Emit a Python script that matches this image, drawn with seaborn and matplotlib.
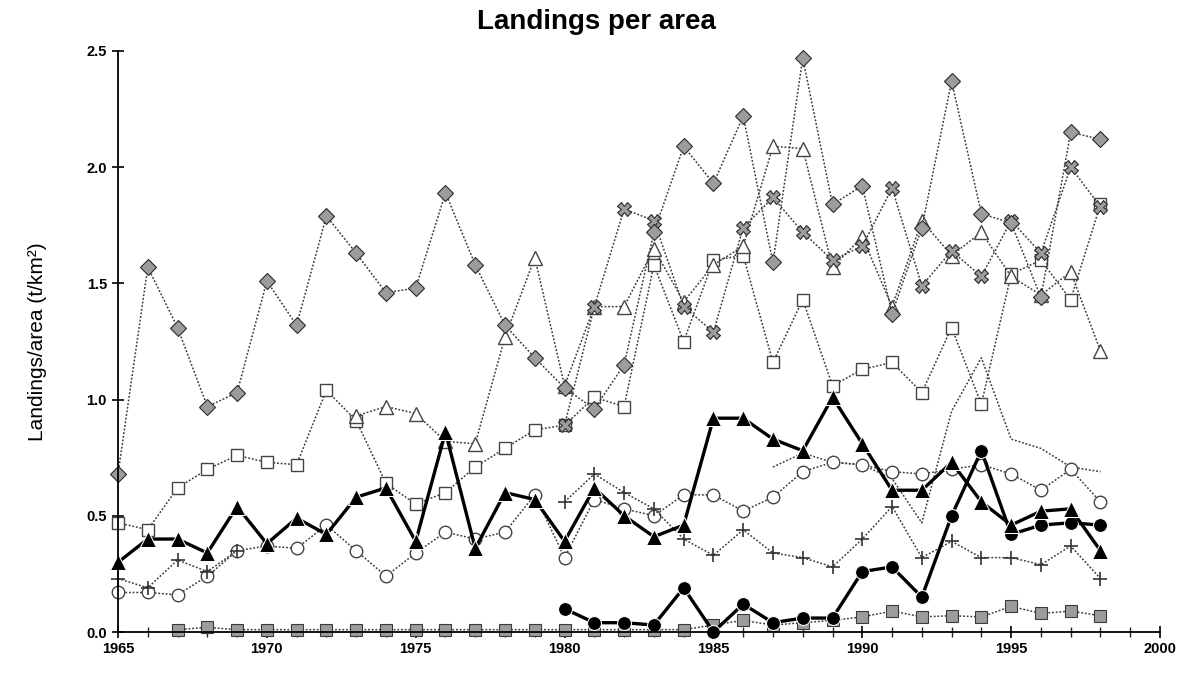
import numpy as np
import pandas as pd
import matplotlib
matplotlib.use("Agg")
import matplotlib.pyplot as plt
import seaborn as sns

years = list(range(1965, 1999))
nan = np.nan

# Landings per area (t/km2) by fishing area
area_diamond = [0.68, 1.57, 1.31, 0.97, 1.03, 1.51, 1.32, 1.79, 1.63, 1.46,
                1.48, 1.89, 1.58, 1.32, 1.18, 1.05, 0.96, 1.15, 1.72, 2.09,
                1.93, 2.22, 1.59, 2.47, 1.84, 1.92, 1.37, 1.74, 2.37, 1.80,
                1.76, 1.44, 2.15, 2.12]
area_square = [0.47, 0.44, 0.62, 0.70, 0.76, 0.73, 0.72, 1.04, 0.91, 0.64,
               0.55, 0.60, 0.71, 0.79, 0.87, 0.89, 1.01, 0.97, 1.58, 1.25,
               1.60, 1.62, 1.16, 1.43, 1.06, 1.13, 1.16, 1.03, 1.31, 0.98,
               1.54, 1.60, 1.43, 1.84]
area_triangle = [nan, nan, nan, nan, nan, nan, nan, nan, 0.93, 0.97,
                 0.94, 0.82, 0.81, 1.27, 1.61, 1.06, 1.40, 1.40, 1.65, 1.42,
                 1.58, 1.66, 2.09, 2.08, 1.57, 1.70, 1.40, 1.77, 1.62, 1.72,
                 1.53, 1.45, 1.55, 1.21]
area_cross = [nan, nan, nan, nan, nan, nan, nan, nan, nan, nan,
              nan, nan, nan, nan, nan, 0.89, 1.40, 1.82, 1.77, 1.40,
              1.29, 1.74, 1.87, 1.72, 1.60, 1.66, 1.91, 1.49, 1.64, 1.53,
              1.77, 1.63, 2.00, 1.83]
area_circle = [0.17, 0.17, 0.16, 0.24, 0.35, 0.37, 0.36, 0.46, 0.35, 0.24,
               0.34, 0.43, 0.40, 0.43, 0.59, 0.32, 0.57, 0.53, 0.50, 0.59,
               0.59, 0.52, 0.58, 0.69, 0.73, 0.72, 0.69, 0.68, 0.70, 0.72,
               0.68, 0.61, 0.70, 0.56]
area_plus = [0.23, 0.19, 0.31, 0.26, 0.35, nan, nan, nan, nan, nan,
             nan, nan, nan, nan, nan, 0.56, 0.68, 0.60, 0.53, 0.40,
             0.33, 0.44, 0.34, 0.32, 0.28, 0.40, 0.54, 0.32, 0.39, 0.32,
             0.32, 0.29, 0.37, 0.23]
area_plain = [nan, nan, nan, nan, nan, nan, nan, nan, nan, nan,
              nan, nan, nan, nan, nan, nan, nan, nan, nan, nan,
              nan, nan, 0.71, 0.77, 0.73, 0.72, 0.66, 0.47, 0.95, 1.18,
              0.83, 0.79, 0.71, 0.69]
area_small = [nan, nan, 0.01, 0.02, 0.01, 0.01, 0.01, 0.01, 0.01, 0.01,
              0.01, 0.01, 0.01, 0.01, 0.01, 0.01, 0.01, 0.01, 0.01, 0.01,
              0.03, 0.05, 0.03, 0.04, 0.05, 0.065, 0.09, 0.065, 0.07, 0.065,
              0.11, 0.08, 0.09, 0.07]
area_bold_tri = [0.30, 0.40, 0.40, 0.34, 0.54, 0.38, 0.49, 0.42, 0.58, 0.62,
                 0.39, 0.86, 0.36, 0.60, 0.57, 0.39, 0.62, 0.50, 0.41, 0.46,
                 0.92, 0.92, 0.83, 0.78, 1.01, 0.81, 0.61, 0.61, 0.73, 0.56,
                 0.46, 0.52, 0.53, 0.35]
area_bold_dot = [nan, nan, nan, nan, nan, nan, nan, nan, nan, nan,
                 nan, nan, nan, nan, nan, 0.10, 0.04, 0.04, 0.03, 0.19,
                 0.00, 0.12, 0.04, 0.06, 0.06, 0.26, 0.28, 0.15, 0.50, 0.78,
                 0.42, 0.46, 0.47, 0.46]

title = "Landings per area"
ylabel = "Landings/area (t/km\u00b2)"
xticks = [1965, 1970, 1975, 1980, 1985, 1990, 1995, 2000]
yticks = [0.0, 0.5, 1.0, 1.5, 2.0, 2.5]

sns.set_theme(style="ticks")
plt.rcParams["font.family"] = ["Liberation Sans", "DejaVu Sans"]
plt.rcParams["text.color"] = "black"
plt.rcParams["axes.labelcolor"] = "black"

fig = plt.figure(figsize=(11.92, 6.73), dpi=100)
ax = fig.add_axes([118 / 1192, 1 - 632 / 673, (1160 - 118) / 1192, (632 - 51) / 673])

dotted = dict(color="#3a3a3a", linewidth=1.1, linestyle=(0, (1.2, 1.2)))
series = [
    (area_plain, dict(marker=None, **dotted)),
    (area_small, dict(marker="s", markersize=8, markerfacecolor="#9c9c9c",
                      markeredgecolor="#3a3a3a", markeredgewidth=0.8, **dotted)),
    (area_circle, dict(marker="o", markersize=9, markerfacecolor="white",
                       markeredgecolor="#444444", markeredgewidth=1.0, **dotted)),
    (area_plus, dict(marker="+", markersize=10, markeredgecolor="#333333",
                     markeredgewidth=1.2, **dotted)),
    (area_square, dict(marker="s", markersize=9, markerfacecolor="white",
                       markeredgecolor="#444444", markeredgewidth=1.0, **dotted)),
    (area_triangle, dict(marker="^", markersize=10, markerfacecolor="white",
                         markeredgecolor="#444444", markeredgewidth=1.0, **dotted)),
    (area_cross, dict(marker="X", markersize=10, markerfacecolor="#9c9c9c",
                      markeredgecolor="#2a2a2a", markeredgewidth=0.8, **dotted)),
    (area_diamond, dict(marker="D", markersize=8, markerfacecolor="#9c9c9c",
                        markeredgecolor="#2a2a2a", markeredgewidth=0.8, **dotted)),
    (area_bold_dot, dict(marker="o", markersize=10, color="black",
                         markerfacecolor="black", linewidth=2.4, linestyle="-")),
    (area_bold_tri, dict(marker="^", markersize=11, color="black",
                         markerfacecolor="black", linewidth=2.4, linestyle="-")),
]

for values, style in series:
    df = pd.DataFrame({"year": years, "value": values})
    # draw each unbroken run separately so gaps stay open
    run_id = df["value"].isna().cumsum()
    for _, part in df.dropna().groupby(run_id[df["value"].notna()]):
        sns.lineplot(data=part, x="year", y="value", ax=ax, estimator=None,
                     sort=False, legend=False, clip_on=False, **style)

ax.set_xlim(1965, 2000)
ax.set_ylim(0, 2.5)
ax.set_xticks(xticks)
ax.set_xticks(range(1965, 2001), minor=True)
ax.set_yticks(yticks)
ax.set_yticklabels([f"{v:.1f}" for v in yticks])
ax.tick_params(axis="both", which="major", direction="inout", length=9,
               width=1.2, labelsize=10.5, colors="black")
ax.tick_params(axis="x", which="minor", direction="inout", length=7, width=1.0)
ax.tick_params(axis="x", pad=3)
for lab in ax.get_xticklabels() + ax.get_yticklabels():
    lab.set_fontweight("bold")
sns.despine(ax=ax)
for side in ("left", "bottom"):
    ax.spines[side].set_linewidth(1.3)
    ax.spines[side].set_color("black")
ax.set_xlabel("")
ax.set_ylabel(ylabel, fontsize=15, labelpad=28, color="black")
fig.text(0.5, 0.968, title, ha="center", va="center", fontsize=20,
         fontweight="bold", color="black")

fig.savefig("out.png", dpi=100, facecolor="white")
